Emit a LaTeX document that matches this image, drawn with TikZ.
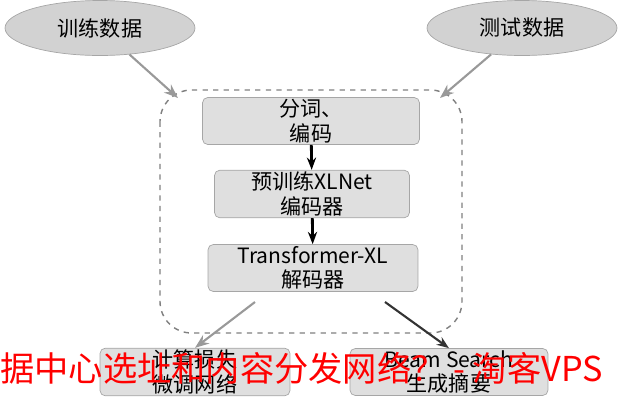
\documentclass[tikz,border=0pt]{standalone}
\usepackage{fontspec}
\setmainfont{Liberation Sans}
\newfontfamily\cjk{Noto Sans CJK SC}
\usetikzlibrary{shapes.geometric,arrows.meta}
\tikzset{
    datum/.style={ellipse, draw=gray!70, fill=gray!35, minimum width=3.8cm, minimum height=1.1cm, font=\cjk\large},
    stage/.style={draw=gray!70, fill=gray!25, rounded corners=3pt, align=center, font=\cjk\large, inner sep=1pt},
    flow/.style={-{Stealth[length=7pt]}, line width=1.6pt},
    feed/.style={-{Stealth[length=8pt]}, line width=1.2pt, gray!80}
}
\begin{document}
\begin{tikzpicture}[x=0.02cm, y=-0.02cm]
    \useasboundingbox (0,0) rectangle (620,400);
    \node (train) [datum] at (100,28) {训练数据};
    \node (test) [datum] at (522,28) {测试数据};
    \draw[dashed, gray, rounded corners=18pt, thick] (160,90) rectangle (462,333);
    \coordinate (boxtl) at (178,98);
    \coordinate (boxtr) at (440,98);
    \coordinate (boxbl) at (255,302);
    \coordinate (boxbr) at (385,302);
    \node (seg) [stage, minimum width=4.34cm, minimum height=0.94cm] at (311,121) {分词、\\编码};
    \node (enc) [stage, minimum width=3.9cm, minimum height=0.84cm] at (312,194) {预训练XLNet\\编码器};
    \node (dec) [stage, minimum width=4.2cm, minimum height=0.94cm] at (313,268) {Transformer-XL\\解码器};
    \node (tune) [stage, minimum width=3.8cm, minimum height=0.94cm] at (195,372) {计算损失\\微调网络};
    \node (beam) [stage, minimum width=3.96cm, minimum height=0.94cm] at (449,372) {Beam Search\\生成摘要};
    \draw[feed] (train) -- (boxtl);
    \draw[feed] (test) -- (boxtr);
    \draw[flow] (seg) -- (enc);
    \draw[flow] (enc) -- (dec);
    \draw[feed] (boxbl) -- (tune.north);
    \draw[flow, line width=1.2pt, black!80] (boxbr) -- (beam.north);
    % watermark
    \node (mark) [text=red, font=\cjk\fontsize{19.5}{20}\selectfont, inner sep=0pt, anchor=west] at (0,368) {据中心选址和内容分发网络？ - 淘客VPS};
\end{tikzpicture}
\end{document}
